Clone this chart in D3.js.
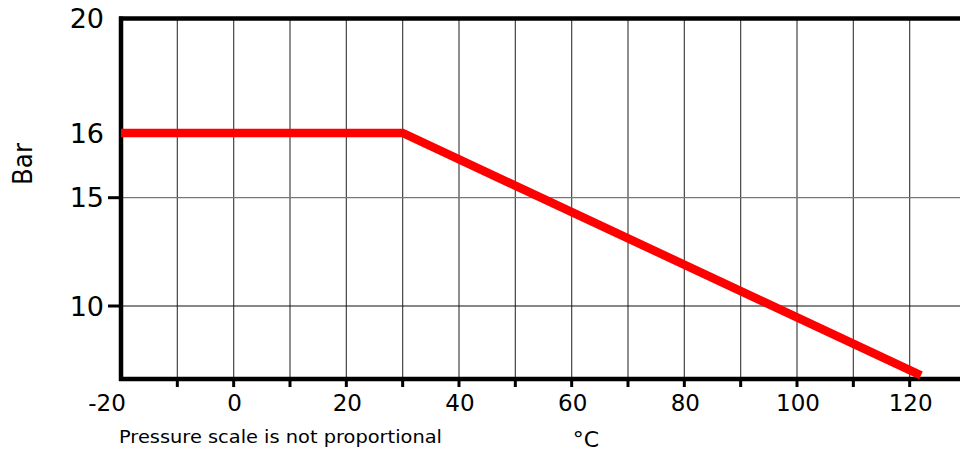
<!DOCTYPE html>
<html><head><meta charset="utf-8">
<script src="https://cdn.jsdelivr.net/npm/d3@7/dist/d3.min.js"></script>
<style>body{margin:0;background:#fff}svg{display:block}text{font-family:"DejaVu Sans",sans-serif;fill:#000}</style>
</head><body><svg id="c" width="960" height="454"></svg>
<script>
const temps = [-20, 30, 122];
const pressures = [16, 16, 6.2];
const xTickMarks = [-10,0,10,20,30,40,50,60,70,80,90,100,110,120,130];
const xTickLabels = [-20,0,20,40,60,80,100,120];
const yTickLabels = [20,16,15,10];
const yTickMarks = [15,10];
const yGrid = [15,10];

const svg = d3.select("#c");
const x = d3.scaleLinear().domain([-20,130]).range([121,966]);
const y = d3.scaleLinear().domain([6,10,15,16,20]).range([379,306,197.7,133,18.5]);

// vertical grid
svg.selectAll("line.vg").data(xTickMarks).join("line")
  .attr("x1",d=>x(d)).attr("x2",d=>x(d)).attr("y1",y(20)).attr("y2",y(6))
  .attr("stroke","#444").attr("stroke-width",1.2);
// horizontal grid
svg.selectAll("line.hg").data(yGrid).join("line")
  .attr("x1",x(-20)).attr("x2",960).attr("y1",d=>y(d)).attr("y2",d=>y(d))
  .attr("stroke",d=>d===10?"#111":"#777").attr("stroke-width",1.2);

// frame
svg.append("line").attr("x1",119).attr("x2",960).attr("y1",y(20)).attr("y2",y(20)).attr("stroke","#000").attr("stroke-width",4.5);
svg.append("line").attr("x1",119).attr("x2",960).attr("y1",y(6)).attr("y2",y(6)).attr("stroke","#000").attr("stroke-width",4.5);
svg.append("line").attr("x1",x(-20)).attr("x2",x(-20)).attr("y1",y(20)-2).attr("y2",y(6)+2).attr("stroke","#000").attr("stroke-width",4.5);

// x ticks
svg.selectAll("line.xt").data(xTickMarks).join("line")
  .attr("x1",d=>x(d)).attr("x2",d=>x(d)).attr("y1",y(6)).attr("y2",y(6)+8)
  .attr("stroke","#000").attr("stroke-width",3);
// y ticks
svg.selectAll("line.yt").data(yTickMarks).join("line")
  .attr("x1",108).attr("x2",x(-20)).attr("y1",d=>y(d)).attr("y2",d=>y(d))
  .attr("stroke","#000").attr("stroke-width",3);

// x labels
svg.selectAll("text.xl").data(xTickLabels).join("text")
  .attr("x",d=>x(d)+(d<0?-14:1)).attr("y",411).attr("text-anchor","middle")
  .attr("font-size",23).text(d=>d);
// y labels
svg.selectAll("text.yl").data(yTickLabels).join("text")
  .attr("x",104).attr("y",d=>y(d)).attr("dy","0.36em").attr("text-anchor","end")
  .attr("font-size",27).text(d=>d);

// data line
const line = d3.line().x(d=>x(d[0])).y(d=>y(d[1]));
svg.append("path").datum(temps.map((t,i)=>[t,pressures[i]]))
  .attr("d",line).attr("fill","none").attr("stroke","#ff0000").attr("stroke-width",8.5);

// titles
svg.append("text").attr("transform","translate(32,164) rotate(-90)").attr("text-anchor","middle")
  .attr("font-size",27).attr("textLength",42).attr("lengthAdjust","spacingAndGlyphs").text("Bar");
svg.append("text").attr("x",119).attr("y",443).attr("font-size",17)
  .attr("textLength",323).attr("lengthAdjust","spacingAndGlyphs").text("Pressure scale is not proportional");
svg.append("text").attr("x",586).attr("y",447).attr("text-anchor","middle").attr("font-size",22).text("°C");
</script></body></html>
